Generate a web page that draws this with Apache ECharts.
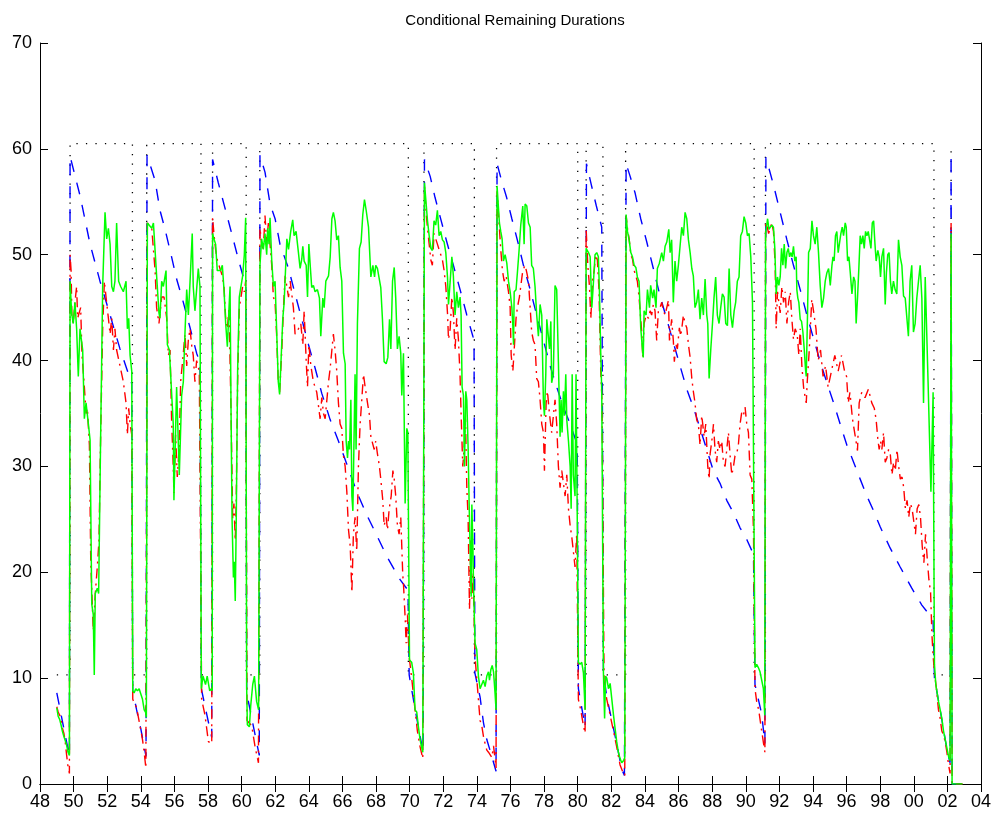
<!DOCTYPE html>
<html>
<head>
<meta charset="utf-8">
<script src="https://cdn.jsdelivr.net/npm/echarts@6/dist/echarts.min.js"></script>
<style>
  html, body { margin: 0; padding: 0; background: #fff; }
  #main { width: 995px; height: 813px; }
</style>
</head>
<body>
<div id="main"></div>
<script>
// business cycle turning points (year fractions) and the two unconditional levels
var troughs = [1949.79, 1954.35, 1958.27, 1961.08, 1970.85, 1975.17, 1980.50, 1982.85, 1991.17, 2002.22];
var peaks = [1953.50, 1957.58, 1960.27, 1969.92, 1973.85, 1980.00, 1981.50, 1990.50, 2001.20];
var expLevel = 60.5;
var recLevel = 10.3;
var startYear = 1949.0;

// blue dashed
var blue = [
  [1949.00,8.6],[1949.25,6.6],[1949.50,4.6],[1949.75,2.7],
  [1949.79,59.3],[1950.38,55.6],[1950.98,51.0],[1951.57,47.5],[1952.17,44.3],[1952.76,41.1],[1953.36,38.3],[1953.46,37.8],
  [1953.52,8.8],[1953.75,7.0],[1954.00,5.2],[1954.31,2.6],
  [1954.37,59.4],[1954.85,57.0],[1955.14,54.2],[1955.44,52.4],[1955.83,49.8],[1956.13,47.7],[1956.53,45.5],[1956.93,43.1],[1957.32,40.7],[1957.52,39.8],
  [1957.60,9.0],[1957.92,6.6],[1958.22,4.4],
  [1958.27,59.0],[1958.61,56.8],[1959.01,54.4],[1959.41,52.0],[1959.80,49.6],[1960.20,47.3],[1960.25,47.0],
  [1960.30,8.5],[1960.40,7.8],[1961.05,2.7],
  [1961.09,59.4],[1961.39,57.8],[1961.69,54.8],[1961.99,53.4],[1962.28,51.0],[1962.79,48.7],[1963.18,46.3],[1963.58,43.9],[1963.98,41.5],[1964.37,39.3],[1964.77,36.9],[1965.27,34.4],[1965.76,32.4],[1966.26,30.2],[1966.85,27.6],[1967.45,25.4],[1968.04,23.5],[1968.64,21.5],[1969.43,19.3],[1969.90,18.3],
  [1969.97,10.3],[1970.33,7.0],[1970.80,3.0],
  [1970.88,59.0],[1971.22,57.4],[1971.51,55.4],[1971.81,53.6],[1972.21,51.2],[1972.60,49.0],[1973.00,46.7],[1973.40,44.3],[1973.76,42.3],[1973.83,42.0],
  [1973.88,10.5],[1974.19,8.2],[1974.39,5.8],[1974.59,4.2],[1974.89,2.6],[1975.14,1.2],
  [1975.20,58.6],[1975.47,57.0],[1975.77,55.4],[1976.08,53.4],[1976.47,51.0],[1976.77,49.0],[1977.17,46.7],[1977.56,44.3],[1977.96,41.9],[1978.36,39.5],[1978.75,37.5],[1979.15,35.6],[1979.55,34.0],[1979.90,32.4],[1979.97,32.1],
  [1980.04,9.0],[1980.44,5.4],
  [1980.52,58.6],[1980.81,56.6],[1981.11,54.6],[1981.43,52.6],
  [1981.53,10.5],[1981.73,8.2],[1982.03,6.0],[1982.32,3.8],[1982.62,1.4],[1982.78,0.8],
  [1982.88,58.6],[1983.12,57.4],[1983.42,55.8],[1983.75,53.4],[1984.11,51.2],[1984.50,48.7],[1984.90,46.1],[1985.30,43.9],[1985.69,41.7],[1986.09,39.5],[1986.49,37.3],[1986.88,35.6],[1987.28,33.6],[1987.68,31.6],[1988.07,29.6],[1988.47,28.4],[1988.87,26.8],[1989.27,25.6],[1989.66,24.2],[1990.06,23.1],[1990.46,21.7],
  [1990.55,9.4],[1990.95,6.6],[1991.14,3.8],
  [1991.20,59.2],[1991.65,56.6],[1992.05,54.0],[1992.45,51.4],[1992.84,49.0],[1993.24,46.7],[1993.64,44.3],[1994.03,42.1],[1994.43,39.9],[1994.83,37.9],[1995.23,36.0],[1995.62,34.0],[1996.02,32.0],[1996.42,30.4],[1996.81,28.8],[1997.21,27.2],[1997.61,25.8],[1998.00,24.3],[1998.59,22.3],[1999.19,20.5],[1999.88,18.5],[2000.48,16.9],[2001.07,15.7],[2001.15,15.4],
  [2001.23,10.0],[2001.57,7.0],[2002.00,3.0],[2002.16,2.0],
  [2002.22,59.5],[2002.28,0],[2002.90,0]
];

// red dash-dot
var red = [
  [1949.00,7.3],[1949.08,6.8],[1949.17,6.5],[1949.25,6.3],[1949.33,5.3],[1949.42,4.8],[1949.50,4.0],[1949.58,2.8],[1949.67,1.6],[1949.75,1.0],
  [1949.79,50],[1949.85,48.5],[1949.90,44],[1949.98,43.5],[1950.08,45.5],[1950.18,47],[1950.24,44],[1950.34,44],[1950.42,45],[1950.50,40.5],[1950.62,38],[1950.74,35],[1950.82,35.5],[1950.94,32],[1951.02,21],[1951.10,17.5],[1951.17,14.5],[1951.29,18],[1951.41,20.5],[1951.51,23],[1951.61,33],[1951.73,43],[1951.83,47.5],[1951.93,46],[1952.07,44],[1952.17,42.5],[1952.27,44],[1952.37,41],[1952.46,43],[1952.56,41],[1952.76,39.5],[1952.96,38],[1953.12,36],[1953.20,33],[1953.28,35.5],[1953.36,34],[1953.46,33],
  [1953.52,8.0],[1953.75,7.2],[1953.95,5.5],[1954.10,4.2],[1954.20,3.0],[1954.30,1.5],
  [1954.39,53],[1954.45,53],[1954.65,52.5],[1954.85,48.5],[1954.94,45],[1955.08,43.5],[1955.24,46],[1955.38,46],[1955.54,44],[1955.64,40.5],[1955.74,41],[1955.83,34.5],[1955.93,30],[1955.97,27.5],[1956.07,33],[1956.17,29],[1956.29,32],[1956.37,38],[1956.49,40],[1956.63,42.5],[1956.73,39.5],[1956.83,42],[1956.93,43],[1957.02,41.5],[1957.12,40.5],[1957.22,38],[1957.32,40],[1957.48,39],
  [1957.62,8.0],[1957.82,6.5],[1958.02,4.0],[1958.22,3.8],
  [1958.27,53.5],[1958.35,52],[1958.45,50.5],[1958.55,49.5],[1958.65,49.5],[1958.75,48.5],[1958.85,48],[1958.95,47],[1959.05,44],[1959.15,43],[1959.25,45],[1959.37,35],[1959.47,25],[1959.54,26.5],[1959.62,23],[1959.68,27],[1959.76,38],[1959.86,45],[1959.96,46],[1960.06,47],[1960.16,46.5],[1960.24,47.5],
  [1960.32,6.0],[1960.60,5.5],[1960.80,3.5],[1961.00,2.0],
  [1961.09,52.5],[1961.19,51],[1961.29,50.5],[1961.39,53.7],[1961.49,51],[1961.59,53],[1961.69,51],[1961.79,49],[1961.89,46],[1961.99,45.5],[1962.08,42.5],[1962.18,38],[1962.26,37],[1962.39,41],[1962.49,45],[1962.59,48],[1962.79,46],[1962.89,47.5],[1963.08,45],[1963.18,42.5],[1963.38,43],[1963.52,43.5],[1963.64,41.5],[1963.72,44.7],[1963.84,40],[1963.92,37.5],[1964.00,41.5],[1964.12,39.5],[1964.27,38],[1964.47,37],[1964.67,34.5],[1964.77,36.5],[1964.87,35],[1964.97,34.5],[1965.17,38],[1965.27,39.3],[1965.37,41],[1965.46,42.5],[1965.56,41],[1965.66,39],[1965.76,36],[1965.86,34],[1965.96,33.6],[1966.06,31],[1966.16,30],[1966.26,27.6],[1966.36,24],[1966.46,22.5],[1966.56,18.1],[1966.65,23.6],[1966.75,25.2],[1966.85,22],[1966.95,30],[1967.05,34],[1967.15,36.3],[1967.25,38.7],[1967.35,37.5],[1967.49,36],[1967.61,34.8],[1967.69,32.8],[1967.79,32.2],[1967.89,31.6],[1967.98,32.4],[1968.08,31.2],[1968.20,30],[1968.28,28.8],[1968.40,26.8],[1968.48,24.4],[1968.60,25.2],[1968.68,24],[1968.78,26],[1968.90,27.2],[1969.00,29.6],[1969.08,28.8],[1969.17,27.2],[1969.27,24.4],[1969.37,23.6],[1969.47,25.2],[1969.59,19.7],[1969.63,18.9],[1969.73,15.7],[1969.79,13.3],[1969.87,16],
  [1969.97,12],[1970.12,10],[1970.32,7],[1970.46,5],[1970.62,3.5],[1970.78,2.4],
  [1970.88,56.5],[1970.98,54],[1971.06,52.5],[1971.16,51],[1971.26,49.5],[1971.35,49],[1971.45,52],[1971.55,51.5],[1971.65,51],[1971.75,50.5],[1971.85,50],[1971.95,49.5],[1972.05,48.5],[1972.15,47],[1972.25,44.5],[1972.31,42],[1972.41,43],[1972.51,46],[1972.60,44.5],[1972.70,41],[1972.80,44],[1972.90,42],[1973.00,38.5],[1973.06,35],[1973.16,30],[1973.24,31.7],[1973.32,34.5],[1973.40,28],[1973.48,25],[1973.56,16.5],[1973.64,23],[1973.70,17.5],[1973.78,20],[1973.83,16],
  [1973.89,12],[1974.09,8],[1974.19,6],[1974.29,5.5],[1974.39,4.5],[1974.49,3.8],[1974.59,3.2],[1974.69,3],[1974.79,3],[1974.89,2.5],[1974.99,3.6],[1975.08,2.4],[1975.14,1.5],
  [1975.20,56],[1975.32,53],[1975.42,50.5],[1975.52,48.5],[1975.62,47.5],[1975.74,48],[1975.88,46.5],[1975.98,45],[1976.04,40.5],[1976.14,39],[1976.22,41],[1976.33,44],[1976.41,45],[1976.53,46],[1976.61,47],[1976.73,48.5],[1976.87,49],[1976.97,48.3],[1977.07,47.5],[1977.17,45],[1977.26,42.7],[1977.36,41.9],[1977.46,41.5],[1977.56,38.3],[1977.66,38],[1977.76,36.3],[1977.86,34],[1977.96,33.2],[1978.02,29.6],[1978.12,36],[1978.20,37.1],[1978.28,35.6],[1978.36,34.4],[1978.45,33.2],[1978.55,33.2],[1978.65,36.3],[1978.75,34],[1978.85,30],[1978.95,28],[1979.05,29.6],[1979.15,28.4],[1979.25,27.2],[1979.35,29.2],[1979.45,26],[1979.55,24.4],[1979.65,23.3],[1979.74,22],[1979.84,20.5],[1979.94,23.6],
  [1980.04,8],[1980.18,7],[1980.34,5.5],[1980.44,4.8],
  [1980.50,52.5],[1980.60,49],[1980.70,47],[1980.78,44],[1980.88,47.5],[1980.98,48.5],[1981.07,50],[1981.17,49.5],[1981.27,46.5],[1981.37,39],[1981.45,36],
  [1981.57,9.5],[1981.73,8],[1981.93,6.5],[1982.13,5],[1982.32,3.5],[1982.52,1.8],[1982.72,1],[1982.80,0.8],
  [1982.88,53.7],[1982.96,52.5],[1983.06,51.5],[1983.16,50],[1983.26,49.6],[1983.36,48.5],[1983.46,48.5],[1983.55,47.5],[1983.65,46],[1983.73,45.9],[1983.81,42.7],[1983.87,40.3],[1983.95,43.5],[1984.07,44.3],[1984.21,44],[1984.31,44.7],[1984.40,44.3],[1984.50,45.3],[1984.60,44.7],[1984.70,41.9],[1984.80,44.7],[1984.90,45],[1985.00,45.5],[1985.10,44.7],[1985.20,44.3],[1985.30,45],[1985.40,45.7],[1985.46,41.9],[1985.54,43.1],[1985.59,43.9],[1985.69,41.9],[1985.75,39.9],[1985.85,41.5],[1985.93,41.1],[1986.05,43.1],[1986.13,42.3],[1986.23,43.5],[1986.29,44.3],[1986.39,43.5],[1986.49,43.1],[1986.59,41.5],[1986.69,40.3],[1986.79,38.3],[1986.88,37.1],[1986.98,36],[1987.08,34.4],[1987.18,34],[1987.28,32],[1987.38,34.8],[1987.44,34],[1987.52,32.8],[1987.62,34],[1987.68,32],[1987.74,30],[1987.82,28.8],[1987.88,31.2],[1987.98,32.4],[1988.08,34],[1988.17,31.6],[1988.27,30.4],[1988.37,32.4],[1988.47,31.6],[1988.57,32.4],[1988.67,30.4],[1988.77,30],[1988.87,31.6],[1988.97,33.2],[1989.07,31],[1989.17,29.2],[1989.27,30],[1989.36,31],[1989.46,31.2],[1989.56,32],[1989.66,34],[1989.76,35.1],[1989.86,34.8],[1989.96,35.6],[1990.06,34],[1990.16,33.2],[1990.26,29.2],[1990.36,28.8],[1990.46,24],
  [1990.55,9],[1990.65,7.8],[1990.77,7],[1990.95,5],[1991.09,3.5],[1991.14,3.0],
  [1991.18,53],[1991.26,52.8],[1991.36,52],[1991.46,52.5],[1991.55,53],[1991.65,52.2],[1991.75,49],[1991.81,43],[1991.89,46.5],[1991.97,45.5],[1992.05,44.5],[1992.15,47],[1992.25,45.5],[1992.35,46.5],[1992.45,43.5],[1992.55,45.5],[1992.65,46.5],[1992.74,44],[1992.84,42],[1992.94,43],[1993.06,42.5],[1993.16,40.5],[1993.24,43],[1993.34,39.5],[1993.44,37.5],[1993.54,36.5],[1993.60,36],[1993.66,38],[1993.78,41],[1993.93,45.8],[1994.05,44.5],[1994.18,43],[1994.31,40],[1994.45,41],[1994.60,38.5],[1994.75,39.5],[1994.90,37.5],[1995.10,39],[1995.30,40.5],[1995.50,39],[1995.70,40.5],[1995.88,39],[1996.00,38.5],[1996.10,36],[1996.20,37],[1996.35,34.5],[1996.50,33],[1996.65,31.5],[1996.75,36],[1996.90,37],[1997.10,36.5],[1997.30,37.3],[1997.50,36],[1997.65,35.5],[1997.76,34.4],[1997.86,32.6],[1997.94,31.6],[1998.02,32.4],[1998.10,31.6],[1998.20,33.2],[1998.30,30.4],[1998.40,30.8],[1998.50,31.6],[1998.60,31.2],[1998.70,29.2],[1998.80,30.4],[1998.90,29.6],[1999.00,31.6],[1999.10,30],[1999.20,28.8],[1999.30,29],[1999.40,28],[1999.50,26],[1999.60,26.8],[1999.70,25.2],[1999.80,26.5],[1999.90,26],[2000.00,24.8],[2000.10,23.6],[2000.20,26],[2000.30,26.4],[2000.40,25.2],[2000.50,22.5],[2000.60,20.9],[2000.70,23.6],[2000.80,21.3],[2000.90,19.3],[2001.00,18.1],[2001.08,14.1],[2001.15,12.1],
  [2001.25,10.2],[2001.35,9],[2001.47,7],[2001.57,6.2],[2001.67,5],[2001.77,4.6],[2001.87,4],[2001.97,3],[2002.07,1.8],[2002.16,1],
  [2002.22,53],[2002.28,0],[2002.90,0]
];

// green solid
var green = [
  [1949.00,7.2],[1949.08,6.4],[1949.17,6.1],[1949.25,5.6],[1949.33,5.0],[1949.42,4.5],[1949.50,4.1],[1949.58,3.7],[1949.67,3.0],[1949.75,2.7],
  [1949.79,47.5],[1949.88,44.5],[1949.98,43.5],[1950.08,45.5],[1950.18,43],[1950.28,38.5],[1950.38,43],[1950.54,41],[1950.64,34.5],[1950.74,36],[1950.88,34],[1950.98,32.5],[1951.08,17],[1951.17,16],[1951.23,10.3],[1951.29,18],[1951.41,18.5],[1951.49,18],[1951.61,33],[1951.73,47],[1951.87,54],[1951.97,51.5],[1952.07,52.5],[1952.17,51],[1952.27,47],[1952.37,46.5],[1952.46,47.5],[1952.56,53],[1952.68,47.5],[1952.80,47],[1952.96,46.5],[1953.12,47.5],[1953.20,43],[1953.28,44],[1953.36,40.5],[1953.46,39],
  [1953.52,8.8],[1953.60,8.6],[1953.70,9.0],[1953.80,8.8],[1953.90,9.0],[1954.00,8.5],[1954.10,8.0],[1954.20,7.0],[1954.28,6.8],[1954.33,6.3],
  [1954.39,53],[1954.45,53],[1954.65,52.5],[1954.75,53],[1954.94,48],[1955.08,44.5],[1955.14,44],[1955.24,47.5],[1955.34,47],[1955.50,48.5],[1955.58,41.5],[1955.70,41],[1955.83,37],[1955.93,34],[1955.97,26.8],[1956.13,37.5],[1956.29,29.2],[1956.43,36.7],[1956.53,38],[1956.63,42.7],[1956.73,46.7],[1956.83,44.3],[1956.93,47.5],[1957.06,52],[1957.12,47],[1957.22,44.7],[1957.42,48.7],[1957.52,47],
  [1957.60,9.0],[1957.70,10.2],[1957.85,9.4],[1957.95,10.2],[1958.10,8.8],[1958.20,9.0],[1958.25,8.8],
  [1958.27,52],[1958.35,51.5],[1958.45,51],[1958.55,48.5],[1958.65,48.5],[1958.75,48.5],[1958.85,49],[1958.95,46.7],[1959.05,43.5],[1959.15,41.3],[1959.25,45],[1959.31,47],[1959.37,35],[1959.43,25],[1959.51,19.5],[1959.56,21],[1959.62,17.3],[1959.68,25],[1959.76,39],[1959.86,46],[1959.96,47],[1960.06,48],[1960.16,50],[1960.24,53.5],
  [1960.30,9],[1960.34,5.6],[1960.46,5.4],[1960.54,7.4],[1960.66,9.4],[1960.76,10.2],[1960.89,7.8],[1961.01,7],
  [1961.09,49],[1961.19,51.5],[1961.29,50.5],[1961.39,52],[1961.49,50],[1961.55,52.5],[1961.63,51],[1961.69,53.5],[1961.79,49.5],[1961.89,47],[1961.99,47.5],[1962.08,43],[1962.18,38],[1962.26,36.8],[1962.45,44],[1962.53,45.5],[1962.69,51.5],[1962.79,50.5],[1962.92,52.2],[1963.04,53.3],[1963.12,51.8],[1963.24,52.2],[1963.38,50.2],[1963.48,48.7],[1963.58,49.6],[1963.64,50.8],[1963.72,49.4],[1963.84,49],[1963.92,46],[1964.00,51],[1964.08,49],[1964.17,46.9],[1964.27,47.1],[1964.37,46.5],[1964.51,46.7],[1964.63,45.9],[1964.71,42.3],[1964.83,45.9],[1964.91,45],[1965.01,47.5],[1965.17,48],[1965.27,49.8],[1965.37,53.4],[1965.46,54],[1965.56,53.2],[1965.66,51.4],[1965.76,51.8],[1965.86,48.8],[1965.96,47.5],[1966.06,40.7],[1966.16,39.7],[1966.22,32.4],[1966.30,30.8],[1966.36,32.4],[1966.42,31.6],[1966.50,36.3],[1966.56,27.2],[1966.62,25.8],[1966.69,32.8],[1966.75,38.7],[1966.81,31.6],[1966.89,43.5],[1967.01,50.6],[1967.11,51.2],[1967.21,53.8],[1967.31,55.2],[1967.41,54.2],[1967.55,52.6],[1967.69,47.9],[1967.81,49],[1967.91,47.9],[1967.98,49],[1968.08,48.7],[1968.18,48.8],[1968.28,46.9],[1968.38,43.9],[1968.48,39.9],[1968.60,39.7],[1968.70,40.3],[1968.80,43.9],[1968.88,41.1],[1968.98,47.5],[1969.08,48.8],[1969.17,45.9],[1969.27,41.1],[1969.37,42.3],[1969.47,40.7],[1969.53,36.7],[1969.63,40.7],[1969.73,26.5],[1969.83,33.6],[1969.89,33.2],
  [1969.99,11.7],[1970.12,11.5],[1970.22,10.5],[1970.32,7],[1970.42,6.8],[1970.52,5.4],[1970.62,4.2],[1970.72,3.4],[1970.78,3],
  [1970.88,56.8],[1970.98,54.8],[1971.06,53.2],[1971.16,51.8],[1971.26,50.6],[1971.35,50.4],[1971.45,53.2],[1971.55,52.8],[1971.65,54.2],[1971.75,51.8],[1971.85,52.2],[1971.95,51.4],[1972.05,51.2],[1972.15,50.2],[1972.25,47.9],[1972.31,45.3],[1972.41,47.5],[1972.51,49.8],[1972.60,48],[1972.70,44.3],[1972.80,46.5],[1972.90,45],[1973.00,46],[1973.06,44.3],[1973.12,37.5],[1973.20,36.7],[1973.26,30],[1973.34,37.1],[1973.40,36.3],[1973.48,31.6],[1973.54,26.4],[1973.60,22],[1973.66,17.7],[1973.70,26.4],[1973.76,22.5],[1973.81,18.1],
  [1973.89,13.3],[1973.99,12.7],[1974.09,10.2],[1974.19,9],[1974.29,9.4],[1974.39,9.8],[1974.49,9.2],[1974.59,10.2],[1974.69,10.6],[1974.75,9.8],[1974.83,10.8],[1974.91,11.2],[1974.99,10.6],[1975.08,8.6],[1975.14,7],
  [1975.20,56.5],[1975.26,55],[1975.34,53],[1975.42,52.2],[1975.50,51.5],[1975.58,49.4],[1975.68,50],[1975.78,49.2],[1975.88,47.5],[1975.98,46.5],[1976.08,45],[1976.14,43.3],[1976.18,41.5],[1976.22,46.5],[1976.33,46.7],[1976.41,48.3],[1976.51,50.4],[1976.61,52.8],[1976.73,54.6],[1976.81,51],[1976.87,54.8],[1976.97,54.6],[1977.07,53],[1977.17,52.6],[1977.26,49],[1977.36,48.7],[1977.46,47],[1977.56,44.3],[1977.66,42.3],[1977.76,45.3],[1977.86,44.3],[1977.96,36],[1978.02,34.8],[1978.10,38.7],[1978.16,43.9],[1978.24,44],[1978.32,41.1],[1978.40,43.7],[1978.45,37.9],[1978.55,38.7],[1978.65,47.1],[1978.75,46.7],[1978.85,39.9],[1978.95,32.8],[1979.01,36.3],[1979.07,33.2],[1979.15,37.1],[1979.21,34.8],[1979.29,38.7],[1979.35,34.4],[1979.45,32.4],[1979.55,30],[1979.61,26],[1979.67,38.7],[1979.74,29.2],[1979.84,27.2],[1979.90,38.7],[1979.96,27.6],
  [1980.04,11.5],[1980.14,11.3],[1980.24,11.5],[1980.34,10.5],[1980.44,7],
  [1980.50,50.6],[1980.64,50.2],[1980.74,49.8],[1980.84,45],[1980.94,47.5],[1981.03,50],[1981.13,50.2],[1981.23,49.8],[1981.29,46.7],[1981.37,40.7],[1981.43,37.1],
  [1981.53,10.5],[1981.60,6.2],[1981.66,10.2],[1981.73,10],[1981.83,9],[1981.93,9.5],[1982.03,8],[1982.13,6.5],[1982.22,5.3],[1982.32,4],[1982.42,3],[1982.52,2.4],[1982.62,2],[1982.72,2.2],[1982.80,2.5],
  [1982.88,53.8],[1982.96,52.2],[1983.06,51.4],[1983.16,50.2],[1983.26,49.8],[1983.36,49],[1983.46,48.8],[1983.55,47.9],[1983.65,47.5],[1983.75,43.1],[1983.85,41.1],[1983.90,40.3],[1983.95,44.7],[1984.07,44.3],[1984.15,46.7],[1984.27,45],[1984.34,47.1],[1984.46,45.9],[1984.54,46.7],[1984.66,45],[1984.74,48.7],[1984.86,49.2],[1985.00,50.2],[1985.10,49.4],[1985.20,50.8],[1985.30,51.2],[1985.42,52.4],[1985.50,50.2],[1985.59,51.4],[1985.69,45.5],[1985.79,49.4],[1985.89,47.5],[1985.99,49],[1986.09,49],[1986.19,52.6],[1986.29,51.8],[1986.39,54],[1986.49,53.4],[1986.59,51.4],[1986.69,50.2],[1986.79,48.7],[1986.88,48],[1986.98,45],[1987.08,45.5],[1987.18,46.7],[1987.28,43.9],[1987.38,45.9],[1987.48,44.3],[1987.58,47.7],[1987.68,44.3],[1987.74,43.5],[1987.82,38.3],[1987.92,41.1],[1988.02,43.5],[1988.11,45.9],[1988.21,47.9],[1988.31,44.3],[1988.41,43.5],[1988.51,45],[1988.61,46.3],[1988.71,46],[1988.81,43.5],[1988.91,43.3],[1989.01,48.7],[1989.11,44.3],[1989.21,43.1],[1989.31,44.7],[1989.40,45.5],[1989.50,47.5],[1989.60,47.9],[1989.70,51.8],[1989.80,52.2],[1989.90,53.6],[1990.00,53],[1990.10,51.8],[1990.20,52],[1990.30,49.8],[1990.40,45.5],[1990.46,45.5],
  [1990.55,11],[1990.65,11.3],[1990.75,11],[1990.85,10.6],[1990.95,9.8],[1991.05,9],[1991.13,6.5],
  [1991.18,52],[1991.30,53.4],[1991.38,52.4],[1991.46,52.6],[1991.55,52.8],[1991.65,52.6],[1991.73,50.6],[1991.81,46.3],[1991.89,47.9],[1991.97,47.1],[1992.05,47.9],[1992.13,50.6],[1992.21,49],[1992.29,51],[1992.37,48.7],[1992.45,50.2],[1992.53,50.6],[1992.61,49.8],[1992.69,50.2],[1992.76,49.8],[1992.84,50.8],[1992.92,49.4],[1993.00,49.8],[1993.04,46.7],[1993.10,45.9],[1993.16,45.5],[1993.24,43.9],[1993.32,43.7],[1993.40,42.7],[1993.48,41.1],[1993.56,39.1],[1993.60,38.5],[1993.68,44.7],[1993.74,50.2],[1993.84,50.6],[1993.94,53.2],[1994.03,51.8],[1994.13,51],[1994.23,52.6],[1994.33,50.2],[1994.43,47.1],[1994.53,45],[1994.63,45.9],[1994.73,47.5],[1994.83,48.3],[1994.93,48.7],[1995.03,47.1],[1995.13,49],[1995.19,49.8],[1995.26,49.4],[1995.34,51.8],[1995.42,52.2],[1995.50,50.2],[1995.58,50.2],[1995.66,52],[1995.74,52.6],[1995.82,51.8],[1995.92,53],[1995.98,52.6],[1996.06,49.4],[1996.14,49.8],[1996.22,48.3],[1996.32,46.3],[1996.42,47.9],[1996.50,47.5],[1996.57,43.5],[1996.65,45.9],[1996.73,48.7],[1996.81,51.8],[1996.89,51],[1996.97,51.8],[1997.05,50.6],[1997.13,52.2],[1997.21,51.8],[1997.29,52.2],[1997.37,52.2],[1997.45,50.6],[1997.53,53],[1997.61,53.2],[1997.69,51],[1997.76,49.4],[1997.86,50.4],[1997.94,49.8],[1998.02,47.9],[1998.10,49.8],[1998.20,50.6],[1998.30,45.3],[1998.37,48.3],[1998.45,50],[1998.53,50.2],[1998.61,47.5],[1998.69,46.3],[1998.79,47.5],[1998.89,46.7],[1998.99,46.3],[1999.09,51.4],[1999.19,49.8],[1999.29,49],[1999.39,46.1],[1999.49,45.9],[1999.58,45.9],[1999.68,42.3],[1999.78,47.5],[1999.88,49],[1999.98,42.7],[2000.08,43.5],[2000.18,45.9],[2000.28,47.5],[2000.38,49],[2000.48,45.9],[2000.58,36],[2000.68,47.9],[2000.85,38],[2001.02,27.6],[2001.15,37],
  [2001.23,11.3],[2001.31,9.4],[2001.39,8.6],[2001.47,7.8],[2001.57,7],[2001.67,6.2],[2001.77,5],[2001.87,4.2],[2001.97,3.4],[2002.07,2.6],[2002.16,2.2],
  [2002.22,52],[2002.28,0],[2002.90,0]
];

// black step line built from the turning points
var black = [[startYear, recLevel]];
var events = troughs.map(function (t) { return [t, 1]; })
  .concat(peaks.map(function (p) { return [p, 0]; }))
  .sort(function (a, b) { return a[0] - b[0]; });
events.forEach(function (e) {
  var from = e[1] ? recLevel : expLevel;
  var to = e[1] ? expLevel : recLevel;
  black.push([e[0], from]);
  black.push([e[0], to]);
});

var myChart = echarts.init(document.getElementById('main'));

var fontFam = 'Liberation Sans, Arial, Helvetica, sans-serif';

function yr(v) {
  var n = Math.round(v) % 100;
  return (n < 10 ? '0' : '') + n;
}

var option = {
  animation: false,
  backgroundColor: '#fff',
  title: {
    text: 'Conditional Remaining Durations',
    left: 510, textAlign: 'center', top: 8,
    textStyle: { fontFamily: fontFam, fontSize: 15, fontWeight: 'normal', color: '#000' }
  },
  grid: { left: 40, right: 14, top: 43, bottom: 29 },
  xAxis: [
    {
      type: 'value', min: 1948, max: 2004, interval: 2,
      axisLine: { lineStyle: { color: '#000', width: 1 } },
      axisTick: { inside: true, length: 8, lineStyle: { color: '#000' } },
      axisLabel: { formatter: yr, color: '#000', fontSize: 18, fontFamily: fontFam, margin: 9 },
      splitLine: { show: false }
    },
    {
      type: 'value', min: 1948, max: 2004, interval: 2, position: 'top',
      axisLine: { lineStyle: { color: '#000', width: 1 } },
      axisTick: { inside: true, length: 8, lineStyle: { color: '#000' } },
      axisLabel: { show: false },
      splitLine: { show: false }
    }
  ],
  yAxis: [
    {
      type: 'value', min: 0, max: 70, interval: 10,
      axisLine: { show: true, lineStyle: { color: '#000', width: 1 } },
      axisTick: { show: true, inside: true, length: 8, lineStyle: { color: '#000' } },
      axisLabel: { color: '#000', fontSize: 18, fontFamily: fontFam, margin: 8 },
      splitLine: { show: false }
    },
    {
      type: 'value', min: 0, max: 70, interval: 10, position: 'right',
      axisLine: { show: true, lineStyle: { color: '#000', width: 1 } },
      axisTick: { show: true, inside: true, length: 8, lineStyle: { color: '#000' } },
      axisLabel: { show: false },
      splitLine: { show: false }
    }
  ],
  series: [
    {
      name: 'unconditional', type: 'line', data: black, showSymbol: false, silent: true,
      lineStyle: { color: '#000', width: 1.3, type: [1.3, 8.2] }
    },
    {
      name: 'duration dependent', type: 'line', data: blue, showSymbol: false, silent: true,
      lineStyle: { color: '#0000ff', width: 1.4, type: [12, 11] }
    },
    {
      name: 'model 2', type: 'line', data: red, showSymbol: false, silent: true,
      lineStyle: { color: '#ff0000', width: 1.4, type: [10, 5, 2, 5] }
    },
    {
      name: 'model 3', type: 'line', data: green, showSymbol: false, silent: true,
      lineStyle: { color: '#00ff00', width: 1.5 }
    }
  ]
};

myChart.setOption(option);
</script>
</body>
</html>
